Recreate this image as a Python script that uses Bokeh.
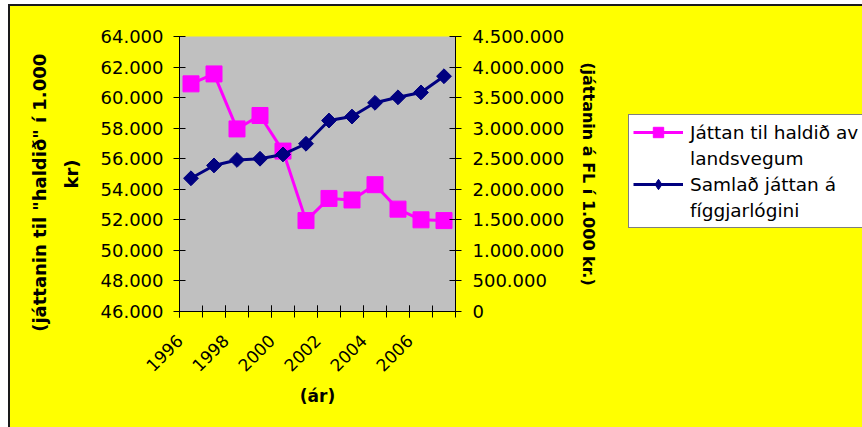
import math
from bokeh.plotting import figure
from bokeh.layouts import row
from bokeh.models import Range1d, LinearAxis, FixedTicker, Legend, LegendItem
from bokeh.embed import file_html
from bokeh.resources import INLINE

# ---- data ----
years = list(range(1996, 2008))
haldid = [60900, 61550, 57950, 58830, 56500, 51950, 53400, 53300, 54300, 52700, 52000, 51950]
samlad = [2180000, 2390000, 2480000, 2500000, 2570000, 2745000, 3125000, 3190000,
          3415000, 3505000, 3585000, 3850000]
x_tick_labels = [1996, 1998, 2000, 2002, 2004, 2006]
left_ticks = list(range(46000, 64001, 2000))
right_ticks = list(range(0, 4500001, 500000))

left_title = '(játtanin til "haldið" í 1.000' + "\u00a0" * 6 + "\nkr)"
right_title = "(játtanin á FL í 1.000 kr.)"
x_title = "(ár)"
legend_labels = ["Játtan til haldið av", "landsvegum", "Samlað játtan á", "fíggjarlógini"]

FONT = "DejaVu Sans"
PINK = "#FF00FF"
NAVY = "#000080"
YELLOW = "#FFFF00"


def dotted(v):
    return f"{v:,}".replace(",", ".")


p = figure(width=610, height=421, output_backend="svg", toolbar_location=None,
           x_range=Range1d(years[0] - 0.5, years[-1] + 0.5),
           y_range=Range1d(left_ticks[0], left_ticks[-1]),
           min_border_left=169, min_border_right=165, min_border_top=30, min_border_bottom=116,
           background_fill_color="#C0C0C0", border_fill_color=YELLOW)
p.extra_y_ranges = {"fl": Range1d(right_ticks[0], right_ticks[-1])}
p.xgrid.visible = False
p.ygrid.visible = False
p.outline_line_color = None

# x axis: labels sit at the category boundaries, as in the reference
xa = p.xaxis[0]
label_pos = [y - 0.5 for y in x_tick_labels]
xa.ticker = FixedTicker(ticks=label_pos,
                        minor_ticks=[y - 0.5 for y in years] + [years[-1] + 0.5])
xa.major_label_overrides = {pos: str(y) for pos, y in zip(label_pos, x_tick_labels)}
xa.major_tick_in = 6
xa.major_tick_out = 6
xa.minor_tick_in = 6
xa.minor_tick_out = 6
xa.major_tick_line_color = "black"
xa.minor_tick_line_color = "black"
xa.axis_line_color = "black"
xa.major_label_orientation = math.pi / 4
xa.major_label_standoff = 20
xa.major_label_text_font = FONT
xa.major_label_text_font_size = "17px"
xa.major_label_text_color = "black"
xa.axis_label = x_title
xa.axis_label_text_font = FONT
xa.axis_label_text_font_size = "17px"
xa.axis_label_text_font_style = "bold"
xa.axis_label_text_color = "black"
xa.axis_label_standoff = 6

# left axis
ya = p.yaxis[0]
ya.ticker = FixedTicker(ticks=left_ticks)
ya.major_label_overrides = {v: dotted(v) for v in left_ticks}
ya.major_tick_in = 6
ya.major_tick_out = 6
ya.minor_tick_line_color = None
ya.axis_line_color = "black"
ya.major_tick_line_color = "black"
ya.major_label_standoff = 10
ya.major_label_text_font = FONT
ya.major_label_text_font_size = "18px"
ya.major_label_text_color = "black"
ya.axis_label = left_title
ya.axis_label_text_font = FONT
ya.axis_label_text_font_size = "18px"
ya.axis_label_text_font_style = "bold"
ya.axis_label_text_color = "black"
ya.axis_label_text_line_height = 1.5
ya.axis_label_standoff = 16

# right axis
ra = LinearAxis(y_range_name="fl", ticker=FixedTicker(ticks=right_ticks))
ra.major_label_overrides = {v: dotted(v) for v in right_ticks}
ra.major_tick_in = 6
ra.major_tick_out = 6
ra.minor_tick_line_color = None
ra.axis_line_color = "black"
ra.major_tick_line_color = "black"
ra.major_label_standoff = 11
ra.major_label_text_font = FONT
ra.major_label_text_font_size = "18px"
ra.major_label_text_color = "black"
ra.axis_label = right_title
ra.axis_label_text_font = FONT
ra.axis_label_text_font_size = "16px"
ra.axis_label_text_font_style = "bold"
ra.axis_label_text_color = "black"
ra.axis_label_standoff = 12
p.add_layout(ra, "right")

# series
p.line(years, haldid, line_color=PINK, line_width=3)
p.scatter(years, haldid, marker="square", size=16, fill_color=PINK, line_color=PINK)
p.line(years, samlad, line_color=NAVY, line_width=3, y_range_name="fl")
p.scatter(years, samlad, marker="square", angle=math.pi / 4, size=10.5,
          fill_color=NAVY, line_color=NAVY, y_range_name="fl")

# legend panel (second canvas to the right, so the legend is not clipped by the plot area)
q = figure(width=242, height=421, output_backend="svg", toolbar_location=None,
           x_axis_location=None, y_axis_location=None, min_border=0,
           x_range=Range1d(0, 1), y_range=Range1d(0, 1),
           background_fill_color=YELLOW, border_fill_color=YELLOW)
q.grid.visible = False
q.outline_line_color = None
nan = [float("nan")]
ql1 = q.line(nan, nan, line_color=PINK, line_width=3)
qs1 = q.scatter(nan, nan, marker="square", size=16, fill_color=PINK, line_color=PINK)
ql2 = q.line(nan, nan, line_color=NAVY, line_width=3)
qs2 = q.scatter(nan, nan, marker="diamond", size=16, fill_color=NAVY, line_color=NAVY)
blank = q.line(nan, nan, line_alpha=0)

legend = Legend(items=[
    LegendItem(label=legend_labels[0], renderers=[ql1, qs1]),
    LegendItem(label=legend_labels[1], renderers=[blank]),
    LegendItem(label=legend_labels[2], renderers=[ql2, qs2]),
    LegendItem(label=legend_labels[3], renderers=[blank]),
], location=(8, 83))
legend.label_text_font = FONT
legend.label_text_font_size = "18.5px"
legend.label_text_color = "black"
legend.glyph_width = 50
legend.glyph_height = 26
legend.label_height = 20
legend.label_standoff = 7
legend.padding = 4
legend.spacing = 0
legend.margin = 0
legend.border_line_color = "black"
legend.border_line_width = 1
legend.background_fill_color = "white"
legend.background_fill_alpha = 1
q.add_layout(legend)

layout = row(p, q, spacing=0)
layout.margin = (4, 0, 0, 8)
layout.styles = {"border-left": "2px solid #1a1a1a", "border-top": "2px solid #1a1a1a",
                 "background-color": YELLOW}

open("out.html", "w").write(file_html(layout, INLINE))
